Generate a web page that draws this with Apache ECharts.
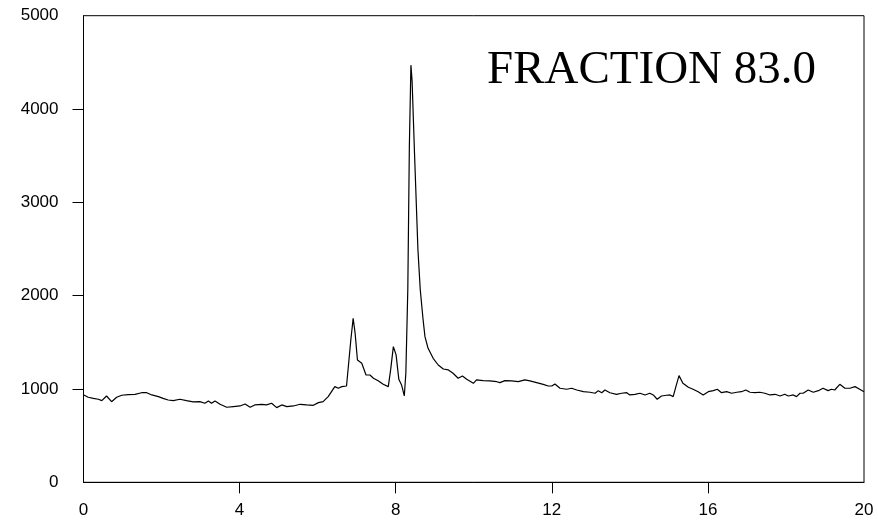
<!DOCTYPE html>
<html>
<head>
<meta charset="utf-8">
<script src="https://cdn.jsdelivr.net/npm/echarts@6/dist/echarts.min.js"></script>
<style>
  html, body { margin: 0; padding: 0; background: #fff; }
  #chart { width: 878px; height: 525px; }
</style>
</head>
<body>
<div id="chart"></div>
<script>
// retention time (x) and detector signal (y)
const times = [
  0.01, 0.12, 0.25, 0.38, 0.47, 0.59, 0.72, 0.85, 0.98, 1.15, 1.32, 1.49, 1.62, 1.75, 1.92,
  2.04, 2.17, 2.30, 2.47, 2.64, 2.81, 2.98, 3.11, 3.20, 3.28, 3.37, 3.50, 3.67, 3.84, 4.01,
  4.14, 4.27, 4.39, 4.57, 4.69, 4.82, 4.95, 5.08, 5.21, 5.38, 5.55, 5.72, 5.89, 6.02, 6.14,
  6.27, 6.32, 6.44, 6.53, 6.62, 6.74, 6.78, 6.85, 6.91, 6.96, 7.02, 7.13, 7.24, 7.34, 7.43,
  7.55, 7.68, 7.81, 7.87, 7.94, 8.01, 8.08, 8.15, 8.22, 8.26, 8.31, 8.35, 8.39, 8.42, 8.48,
  8.57, 8.63, 8.70, 8.75, 8.83, 8.96, 9.09, 9.22, 9.35, 9.47, 9.60, 9.71, 9.82, 9.99, 10.07,
  10.24, 10.41, 10.59, 10.67, 10.80, 10.97, 11.14, 11.31, 11.44, 11.61, 11.78, 11.91, 12.00, 12.08, 12.21,
  12.38, 12.51, 12.64, 12.81, 12.98, 13.11, 13.19, 13.28, 13.36, 13.49, 13.66, 13.79, 13.92, 14.00, 14.13,
  14.26, 14.39, 14.51, 14.60, 14.70, 14.81, 14.94, 15.03, 15.11, 15.18, 15.26, 15.36, 15.50, 15.62, 15.75,
  15.88, 16.01, 16.14, 16.24, 16.35, 16.48, 16.61, 16.74, 16.86, 16.97, 17.08, 17.21, 17.33, 17.46, 17.59,
  17.72, 17.85, 17.97, 18.06, 18.19, 18.27, 18.36, 18.44, 18.57, 18.70, 18.83, 18.95, 19.08, 19.17, 19.25,
  19.38, 19.51, 19.64, 19.77, 19.89, 20.00
];
const signal = [
  936, 911, 900, 890, 875, 925, 864, 911, 933, 939, 943, 960, 960, 936, 918,
  900, 882, 875, 890, 875, 861, 864, 847, 872, 847, 872, 836, 804, 811, 818,
  839, 804, 829, 836, 829, 847, 800, 829, 811, 818, 836, 829, 825, 854, 864,
  918, 936, 1025, 1008, 1025, 1032, 1043, 1525, 1758, 1597, 1311, 1276, 1150, 1150, 1115,
  1089, 1050, 1025, 1204, 1454, 1365, 1104, 1043, 925, 1168, 2062, 3600, 4470, 4300, 3550,
  2490, 2060, 1750, 1561, 1436, 1329, 1257, 1214, 1204, 1168, 1115, 1139, 1104, 1061, 1097,
  1089, 1086, 1078, 1068, 1089, 1086, 1078, 1097, 1086, 1068, 1050, 1032, 1032, 1054, 1008,
  997, 1008, 989, 971, 965, 954, 982, 960, 989, 960, 943, 954, 960, 936, 943,
  954, 936, 954, 936, 890, 925, 933, 936, 918, 1025, 1143, 1061, 1018, 997, 971,
  936, 971, 982, 997, 960, 971, 954, 965, 971, 989, 965, 960, 965, 954, 936,
  943, 925, 943, 925, 936, 918, 954, 954, 989, 965, 982, 1008, 982, 997, 989,
  1050, 1008, 1008, 1025, 997, 971
];
const xTicks = [4, 8, 12, 16];
const yTicks = [1000, 2000, 3000, 4000];
const label = "FRACTION 83.0";

const chart = echarts.init(document.getElementById("chart"));
const points = times.map((t, i) => [t, signal[i]]);

const option = {
  animation: false,
  grid: {
    left: 83.5,
    right: 14,
    top: 15.7,
    bottom: 42.7,
    show: true,
    borderColor: "#000",
    borderWidth: 1
  },
  graphic: [
    {
      type: "text",
      left: 487,
      top: 47,
      style: {
        text: label,
        font: '47px "Liberation Serif", "Times New Roman", serif',
        fill: "#000"
      }
    }
  ],
  xAxis: {
    type: "value",
    min: 0,
    max: 20,
    interval: 4,
    splitLine: { show: false },
    axisLine: { show: true, lineStyle: { color: "#000", width: 1 } },
    axisTick: { show: true, length: 11, customValues: xTicks, lineStyle: { color: "#000" } },
    axisLabel: {
      margin: 20,
      color: "#000",
      fontSize: 17,
      fontFamily: '"Liberation Sans", Arial, sans-serif',
      formatter: (v) => String(v)
    }
  },
  yAxis: {
    type: "value",
    min: 0,
    max: 5000,
    interval: 1000,
    splitLine: { show: false },
    axisLine: { show: true, lineStyle: { color: "#000", width: 1 } },
    axisTick: { show: true, length: 11, customValues: yTicks, lineStyle: { color: "#000" } },
    axisLabel: {
      margin: 25,
      color: "#000",
      fontSize: 17,
      fontFamily: '"Liberation Sans", Arial, sans-serif',
      formatter: (v) => String(v)
    }
  },
  series: [
    {
      type: "line",
      data: points,
      showSymbol: false,
      smooth: false,
      lineStyle: { color: "#000", width: 1.2 }
    }
  ]
};
chart.setOption(option);
</script>
</body>
</html>
